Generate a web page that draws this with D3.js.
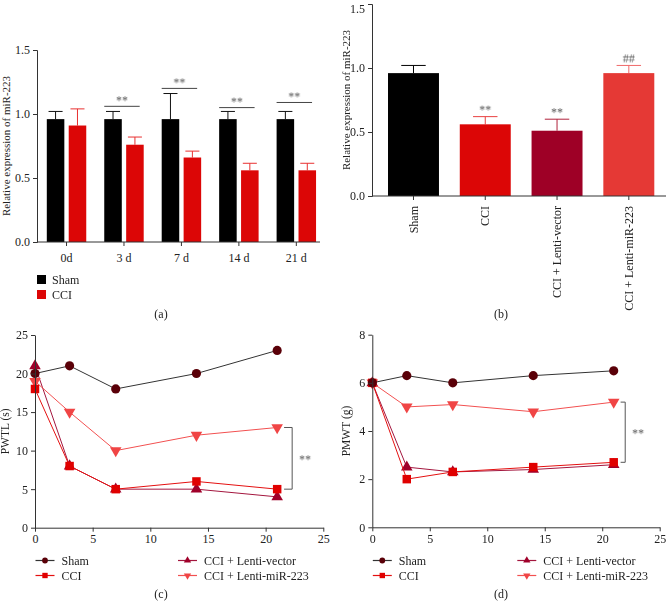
<!DOCTYPE html>
<html><head><meta charset="utf-8">
<script src="https://cdn.jsdelivr.net/npm/d3@7"></script>
<style>body{margin:0;background:#fff}svg{display:block}text{font-family:"Liberation Serif","Times New Roman",serif}.sig{will-change:transform}</style>
</head><body>
<script>
// ---------- data ----------
const daysA = ["0d","3 d","7 d","14 d","21 d"];
const shamA = [0.96,0.96,0.96,0.96,0.96];
const shamAErr = [1.02,1.02,1.16,1.02,1.02];
const cciA = [0.91,0.76,0.66,0.56,0.56];
const cciAErr = [1.04,0.82,0.71,0.615,0.615];
const sigA = ["","**","**","**","**"];
const sigALineY = [0,1.06,1.20,1.05,1.09];
const yTicksBar = [0,0.5,1.0,1.5];

const groupsB = ["Sham","CCI","CCI + Lenti-vector","CCI + Lenti-miR-223"];
const valuesB = [0.96,0.56,0.51,0.96];
const errB = [1.02,0.62,0.60,1.02];
const sigB = ["","**","**","##"];

const days = [0,3,7,14,21];
const seriesNames = ["Sham","CCI","CCI + Lenti-vector","CCI + Lenti-miR-223"];
const pwtlSham = [20,21,18,20,23];
const pwtlCCI = [18,8,5,6,5];
const pwtlVector = [21,8,5,5,4];
const pwtlMiR = [19,15,10,12,13];
const pmwtSham = [6,6.3,6,6.3,6.5];
const pmwtCCI = [6,2.0,2.3,2.5,2.7];
const pmwtVector = [6,2.5,2.3,2.4,2.6];
const pmwtMiR = [6,5.0,5.1,4.8,5.2];
const xTicksLine = [0,5,10,15,20,25];
const yTicksC = [0,5,10,15,20,25];
const yTicksD = [0,2,4,6,8];

// ---------- styles ----------
const barColA = {Sham:"#000000", CCI:"#dc0606"};
const barColB = ["#000000","#dc0606","#9e0026","#e53935"];
const errColB = ["#000000","#e84040","#b0203a","#f06a6a"];
const lineCol = {"Sham":"#333333","CCI":"#e41010","CCI + Lenti-vector":"#a3163e","CCI + Lenti-miR-223":"#f25050"};
const markCol = {"Sham":"#5a0008","CCI":"#e00000","CCI + Lenti-vector":"#a0002a","CCI + Lenti-miR-223":"#f04545"};
const axisCol = "#333";
const W = 666, H = 602;
const FS = "12px";

const svg = d3.select("body").append("svg").attr("width",W).attr("height",H);

function styleAxis(g){
  g.selectAll("path,line").attr("stroke",axisCol).attr("stroke-width",1);
  g.selectAll("text").attr("fill","#222").style("font-size",FS);
}
function sigText(g, x, y, t, anchor){
  return g.append("text").attr("class","sig")
    .attr("transform",`translate(${x},${y}) rotate(0.01)`)
    .attr("text-anchor",anchor||"middle")
    .style("font-size","12px").attr("fill","#555").text(t);
}

// ---------- Panel (a) ----------
{
  const y = d3.scaleLinear().domain([0,1.5]).range([242,50]);
  const x = d3.scaleBand().domain(daysA).range([37.8,325.05]).padding(0);
  const xs = d3.scaleBand().domain(["Sham","CCI"]).range([9,48.45]).paddingInner(0.2);
  const g = svg.append("g");
  const rows = daysA.map((d,i)=>[
    {day:d,s:"Sham",v:shamA[i],e:shamAErr[i]},
    {day:d,s:"CCI",v:cciA[i],e:cciAErr[i]}]).flat();
  const cap = xs.bandwidth()*0.4;
  g.selectAll(".err").data(rows).join("g").each(function(r){
    const cx = x(r.day)+xs(r.s)+xs.bandwidth()/2;
    const sel = d3.select(this);
    const c = r.s==="Sham"?"#111":"#e83030";
    sel.append("line").attr("x1",cx).attr("x2",cx).attr("y1",y(r.v)).attr("y2",y(r.e)).attr("stroke",c);
    sel.append("line").attr("x1",cx-cap).attr("x2",cx+cap).attr("y1",y(r.e)).attr("y2",y(r.e)).attr("stroke",c);
  });
  g.selectAll(".bar").data(rows).join("rect")
    .attr("x",r=>x(r.day)+xs(r.s)).attr("width",xs.bandwidth())
    .attr("y",r=>y(r.v)).attr("height",r=>y(0)-y(r.v)).attr("fill",r=>barColA[r.s]);
  const ya = g.append("g").attr("transform","translate(37,0)")
    .call(d3.axisLeft(y).tickValues(yTicksBar).tickFormat(d3.format(".1f")).tickSizeOuter(0).tickSize(4));
  styleAxis(ya);
  const xa = g.append("g").attr("transform","translate(0,242)")
    .call(d3.axisBottom(x).tickSize(4).tickSizeOuter(0));
  xa.select(".domain").remove();
  styleAxis(xa);
  xa.selectAll("text").attr("dy","1.05em");
  g.append("line").attr("x1",37).attr("x2",320).attr("y1",242).attr("y2",242).attr("stroke",axisCol);
  daysA.forEach((d,i)=>{
    if(!sigA[i]) return;
    const x1 = x(d)+xs("Sham"), x2 = x(d)+xs("CCI")+xs.bandwidth()-4;
    const yy = y(sigALineY[i]);
    g.append("line").attr("x1",x1).attr("x2",x2).attr("y1",yy).attr("y2",yy).attr("stroke","#444");
    sigText(g,(x1+x2)/2,yy-2,sigA[i]);
  });
  g.append("text").attr("transform","translate(10,146) rotate(-90)").attr("text-anchor","middle")
    .style("font-size","11px").attr("fill","#222").text("Relative expression of miR-223");
  ["Sham","CCI"].forEach((s,i)=>{
    g.append("rect").attr("x",37).attr("y",275+i*15).attr("width",9).attr("height",9).attr("fill",barColA[s]);
    g.append("text").attr("x",52).attr("y",283.5+i*15).style("font-size",FS).attr("fill","#222").text(s);
  });
  g.append("text").attr("x",161).attr("y",318).attr("text-anchor","middle").style("font-size",FS).attr("fill","#222").text("(a)");
}

// ---------- Panel (b) ----------
{
  const y = d3.scaleLinear().domain([0,1.5]).range([196,4]);
  const x = d3.scaleBand().domain(groupsB).range([377.6,664.7]).paddingInner(0.29).paddingOuter(0.145);
  const g = svg.append("g");
  const rows = groupsB.map((d,i)=>({g:d,v:valuesB[i],e:errB[i],i}));
  const cap = x.bandwidth()*0.24;
  rows.forEach(r=>{
    const cx = x(r.g)+x.bandwidth()/2;
    g.append("line").attr("x1",cx).attr("x2",cx).attr("y1",y(r.v)).attr("y2",y(r.e)).attr("stroke",errColB[r.i]);
    g.append("line").attr("x1",cx-cap).attr("x2",cx+cap).attr("y1",y(r.e)).attr("y2",y(r.e)).attr("stroke",errColB[r.i]);
    if(sigB[r.i]) sigText(g,cx,y(r.e)-3,sigB[r.i]);
  });
  g.selectAll(".bar").data(rows).join("rect")
    .attr("x",r=>x(r.g)).attr("width",x.bandwidth())
    .attr("y",r=>y(r.v)).attr("height",r=>y(0)-y(r.v)).attr("fill",r=>barColB[r.i]);
  const ya = g.append("g").attr("transform","translate(372,0)")
    .call(d3.axisLeft(y).tickValues(yTicksBar).tickFormat(d3.format(".1f")).tickSizeOuter(0).tickSize(4));
  styleAxis(ya);
  ya.selectAll(".tick text").filter(d=>d===1.5).attr("dy","0.72em");
  const xa = g.append("g").attr("transform","translate(0,196)")
    .call(d3.axisBottom(x).tickSize(4).tickSizeOuter(0));
  xa.select(".domain").remove();
  styleAxis(xa);
  xa.selectAll("text").attr("transform","rotate(-90)").attr("text-anchor","end")
    .attr("x",-10).attr("y",0).attr("dy","0.35em");
  g.append("line").attr("x1",372).attr("x2",666).attr("y1",196).attr("y2",196).attr("stroke",axisCol);
  g.append("text").attr("transform","translate(350,100) rotate(-90)").attr("text-anchor","middle")
    .style("font-size","11px").attr("fill","#222").text("Relative expression of miR-223");
  g.append("text").attr("x",501).attr("y",318).attr("text-anchor","middle").style("font-size",FS).attr("fill","#222").text("(b)");
}

// ---------- line panels ----------
const symbols = {
  "Sham": {t:d3.symbolCircle, size:66, rot:0},
  "CCI": {t:d3.symbolSquare, size:72, rot:0},
  "CCI + Lenti-vector": {t:d3.symbolTriangle, size:58, rot:0},
  "CCI + Lenti-miR-223": {t:d3.symbolTriangle, size:58, rot:180}
};
function linePanel(opt){
  const g = svg.append("g");
  const x = d3.scaleLinear().domain([0,25]).range(opt.xr);
  const y = d3.scaleLinear().domain(opt.yd).range(opt.yr);
  const line = d3.line().x((d,i)=>x(days[i])).y(d=>y(d));
  const order = ["CCI + Lenti-vector","CCI + Lenti-miR-223","CCI","Sham"];
  order.forEach(name=>{
    const vals = opt.data[name];
    g.append("path").datum(vals).attr("d",line).attr("fill","none")
      .attr("stroke",lineCol[name]).attr("stroke-width",1);
    g.selectAll(null).data(vals).join("path")
      .attr("d",d3.symbol().type(symbols[name].t).size(symbols[name].size))
      .attr("transform",(d,i)=>`translate(${x(days[i])},${y(d)}) rotate(${symbols[name].rot})`)
      .attr("fill",markCol[name]);
  });
  const xa = g.append("g").attr("transform",`translate(0,${opt.yr[0]})`)
    .call(d3.axisBottom(x).tickValues(xTicksLine).tickSize(4).tickSizeOuter(0));
  styleAxis(xa);
  const ya = g.append("g").attr("transform",`translate(${opt.xr[0]},0)`)
    .call(d3.axisLeft(y).tickValues(opt.yt).tickSize(4).tickSizeOuter(0));
  styleAxis(ya);
  const bx0 = x(21.6), bx1 = x(opt.bx);
  const yTop = y(opt.data["CCI + Lenti-miR-223"][4]), yBot = y(opt.data["CCI"][4]);
  g.append("path").attr("d",`M${bx0},${yTop}H${bx1}V${yBot}H${bx0}`).attr("fill","none")
    .attr("stroke","#555").attr("stroke-width",1);
  sigText(g, x(opt.bx+0.6), (yTop+yBot)/2+5, "**", "start");
  g.append("text").attr("transform",`translate(${opt.titleX},${(opt.yr[0]+opt.yr[1])/2}) rotate(-90)`)
    .attr("text-anchor","middle").style("font-size","11.5px").attr("fill","#222").text(opt.title);
  const lx = [opt.xr[0]+0.5, opt.xr[0]+0.5, opt.xr[0]+opt.lx2, opt.xr[0]+opt.lx2];
  const ly = [560.5, 575.5, 560.5, 575.5];
  const legOrder = ["Sham","CCI","CCI + Lenti-vector","CCI + Lenti-miR-223"];
  legOrder.forEach((name,i)=>{
    g.append("line").attr("x1",lx[i]).attr("x2",lx[i]+19).attr("y1",ly[i]).attr("y2",ly[i])
      .attr("stroke",lineCol[name]).attr("stroke-width",1.2);
    g.append("path").attr("d",d3.symbol().type(symbols[name].t).size(symbols[name].size*0.4))
      .attr("transform",`translate(${lx[i]+9.5},${ly[i]}) rotate(${symbols[name].rot})`)
      .attr("fill",markCol[name]);
    g.append("text").attr("x",lx[i]+26).attr("y",ly[i]+4).style("font-size",FS).attr("fill","#222").text(name);
  });
  g.append("text").attr("x",opt.labX).attr("y",598).attr("text-anchor","middle").style("font-size",FS).attr("fill","#222").text(opt.label);
}

linePanel({
  xr:[35,323.3], yd:[0,25], yr:[527.7,335], yt:yTicksC, bx:22.3,
  data:{"Sham":pwtlSham,"CCI":pwtlCCI,"CCI + Lenti-vector":pwtlVector,"CCI + Lenti-miR-223":pwtlMiR},
  title:"PWTL (s)", titleX:9, lx2:143, labX:161, label:"(c)"
});
linePanel({
  xr:[372.3,659.7], yd:[0,8], yr:[527.3,334.7], yt:yTicksD, bx:22.0,
  data:{"Sham":pmwtSham,"CCI":pmwtCCI,"CCI + Lenti-vector":pmwtVector,"CCI + Lenti-miR-223":pmwtMiR},
  title:"PMWT (g)", titleX:350, lx2:145, labX:501, label:"(d)"
});
</script>
</body></html>
